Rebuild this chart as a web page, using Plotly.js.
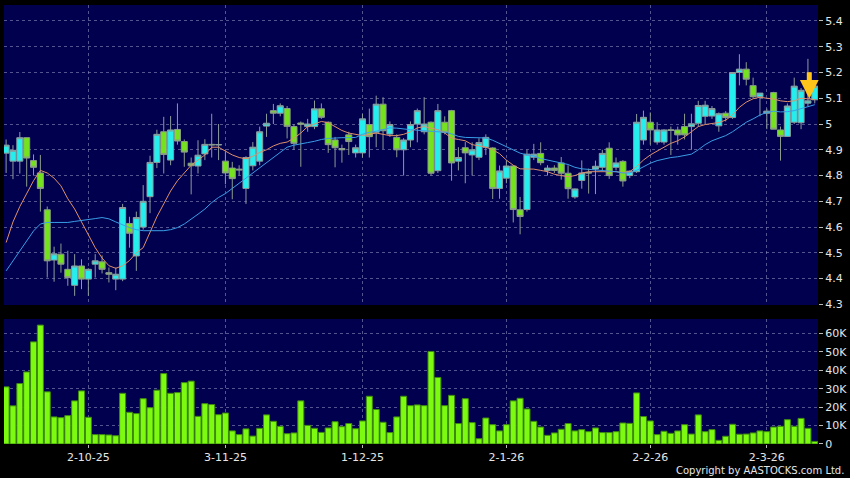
<!DOCTYPE html>
<html>
<head>
<meta charset="utf-8">
<script src="https://cdn.plot.ly/plotly-3.0.1.min.js"></script>
<style>
html,body{margin:0;padding:0;background:#000;}
#chart{width:850px;height:478px;}
</style>
</head>
<body>
<div id="chart"></div>
<script>
// ---- data ----
const tickIdx = [12, 32, 52, 73, 94, 111];
const tickText = ['2-10-25', '3-11-25', '1-12-25', '2-1-26', '2-2-26', '2-3-26'];

const openP = [
  4.887,4.856,4.856,4.947,4.858,4.81,4.667,4.472,4.495,4.436,
  4.374,4.449,4.398,4.456,4.465,4.423,4.398,4.398,4.614,4.488,
  4.60,4.718,4.851,4.97,4.86,4.979,4.932,4.848,4.837,4.884,
  4.921,4.919,4.856,4.829,4.825,4.75,4.838,4.856,4.992,5.052,
  5.042,5.06,4.99,5.004,4.99,4.99,5.059,5.007,4.938,4.905,
  4.958,4.888,4.888,4.998,4.968,5.077,4.961,4.948,4.9,4.938,
  5.0,4.97,5.007,4.819,5.007,5.052,4.856,4.908,
  4.88,4.871,4.91,4.907,4.75,4.79,4.837,4.667,4.668,4.871,4.886,
  4.82,4.829,4.849,4.809,4.717,4.781,4.812,4.825,4.832,4.906,
  4.832,4.855,4.80,4.815,4.938,5.007,4.93,4.93,4.978,4.977,
  4.99,4.99,5.003,5.03,5.031,4.993,5.042,5.025,5.20,5.213,
  5.149,5.106,5.042,5.122,4.977,4.952,5.007,5.005,5.081,5.094
];
const highP = [
  4.94,4.918,4.969,4.947,4.882,4.88,4.68,4.524,4.536,4.508,
  4.495,4.475,4.44,4.495,4.49,4.443,4.443,4.69,4.64,4.66,
  4.763,4.877,4.978,5.028,5.031,5.08,4.94,4.87,4.937,4.941,
  5.04,5.0,4.892,4.853,4.84,4.875,4.93,4.99,5.04,5.078,
  5.08,5.07,5.0,5.01,5.02,5.091,5.08,5.01,4.95,4.92,
  4.97,4.92,5.039,5.06,5.11,5.104,5.01,4.96,4.945,5.01,
  5.06,5.104,5.01,5.078,5.03,5.055,4.91,4.93,
  4.929,4.945,4.96,4.91,4.839,4.86,4.84,4.717,4.90,4.923,4.929,
  4.84,4.84,4.872,4.84,4.75,4.859,4.827,4.858,4.9,4.929,
  4.87,4.86,4.82,5.039,5.052,5.045,5.007,4.98,4.99,4.99,
  5.04,5.04,5.09,5.09,5.07,5.045,5.05,5.20,5.271,5.24,
  5.18,5.12,5.06,5.125,4.99,5.08,5.18,5.14,5.253,5.15
];
const lowP = [
  4.81,4.786,4.808,4.757,4.80,4.66,4.404,4.388,4.423,4.372,
  4.333,4.359,4.333,4.404,4.42,4.385,4.355,4.39,4.52,4.43,
  4.59,4.654,4.829,4.808,4.84,4.92,4.834,4.727,4.808,4.86,
  4.87,4.86,4.766,4.708,4.80,4.69,4.82,4.84,4.95,5.0,
  5.03,4.944,4.90,4.834,4.97,4.98,5.02,4.888,4.832,4.85,
  4.88,4.87,4.87,4.87,4.91,4.903,4.95,4.871,4.80,4.91,
  4.929,4.96,4.80,4.81,4.96,4.78,4.82,4.77,
  4.80,4.86,4.88,4.709,4.71,4.77,4.618,4.572,4.66,4.86,4.84,
  4.80,4.81,4.784,4.71,4.71,4.749,4.73,4.728,4.82,4.787,
  4.82,4.757,4.79,4.81,4.92,4.92,4.92,4.92,4.88,4.92,
  4.94,4.90,4.99,5.0,5.02,4.97,5.01,5.02,5.15,5.15,
  5.10,5.03,4.98,4.98,4.858,4.95,5.0,4.98,5.07,5.08
];
const closeP = [
  4.918,4.898,4.947,4.868,4.832,4.75,4.469,4.496,4.456,4.404,
  4.449,4.398,4.436,4.469,4.436,4.417,4.417,4.676,4.576,4.637,
  4.70,4.851,4.96,4.882,4.977,4.934,4.891,4.838,4.879,4.921,
  4.919,4.92,4.81,4.788,4.822,4.87,4.91,4.97,5.003,5.042,
  5.071,4.991,4.925,4.999,5.0,5.059,5.026,4.92,4.908,4.90,
  4.932,4.908,5.02,4.951,5.077,4.974,4.998,4.90,4.938,4.998,
  5.052,5.0,4.809,5.052,4.968,4.849,4.87,4.888,
  4.90,4.928,4.948,4.75,4.818,4.837,4.668,4.641,4.883,4.883,4.85,
  4.829,4.82,4.809,4.749,4.748,4.81,4.81,4.836,4.886,4.80,
  4.849,4.779,4.817,5.007,5.026,4.977,4.977,4.977,4.975,4.958,
  4.958,5.001,5.072,5.073,5.06,5.04,5.025,5.20,5.213,5.174,
  5.106,5.12,5.05,4.98,4.952,5.07,5.147,5.131,5.09,5.147
];
const volumeK = [
  31.0,20.7,32.8,39.1,55.4,64.5,28.3,14.7,14.3,15.4,
  23.4,28.8,14.5,5.1,5.1,4.9,4.5,27.5,17.2,16.5,
  24.6,19.7,29.2,38.2,27.5,27.9,33.3,34.1,15.0,21.9,
  21.4,15.9,16.8,7.1,5.1,8.2,4.3,8.5,15.8,12.3,
  9.6,5.6,6.0,23.4,10.1,8.5,6.3,8.7,12.1,9.4,
  11.1,8.3,12.5,25.9,18.7,11.8,6.2,14.7,25.9,20.8,
  21.2,20.8,50.2,36.1,20.8,26.4,11.1,24.6,
  11.6,2.9,14.1,10.5,7.1,10.5,23.4,24.8,19.0,12.3,9.2,
  4.7,6.0,8.0,11.1,7.1,7.8,6.7,8.7,6.2,6.2,
  6.7,11.4,11.2,27.7,14.9,12.5,5.1,6.9,5.8,7.1,
  10.5,5.4,15.8,6.7,7.8,2.0,4.2,10.7,5.3,5.4,
  6.0,7.1,6.7,9.2,9.6,13.2,9.6,13.9,8.5,1.4
];
const maShort = [
  4.54,4.62,4.68,4.73,4.78,4.82,4.81,4.79,4.76,4.71,
  4.67,4.62,4.57,4.52,4.48,4.45,4.44,4.45,4.47,4.50,
  4.52,4.58,4.64,4.69,4.74,4.78,4.81,4.84,4.86,4.88,
  4.91,4.91,4.895,4.88,4.87,4.865,4.875,4.89,4.90,4.915,
  4.925,4.93,4.945,4.965,4.99,5.00,5.01,5.005,4.99,4.975,
  4.965,4.96,4.955,4.96,4.965,4.96,4.955,4.955,4.96,4.97,
  4.985,4.99,4.985,4.978,4.965,4.945,4.94,4.935,
  4.92,4.915,4.91,4.90,4.885,4.86,4.84,4.826,4.825,4.825,4.82,
  4.815,4.805,4.80,4.795,4.80,4.81,4.815,4.815,4.815,4.815,
  4.815,4.812,4.815,4.835,4.86,4.88,4.895,4.91,4.925,4.935,
  4.95,4.97,4.99,4.998,5.003,5.006,5.015,5.035,5.065,5.085,
  5.098,5.104,5.10,5.097,5.09,5.087,5.09,5.10,5.098,5.095
];
const maLong = [
  4.43,4.47,4.51,4.55,4.585,4.612,4.618,4.618,4.618,4.618,
  4.622,4.625,4.628,4.633,4.637,4.632,4.62,4.608,4.598,4.59,
  4.586,4.586,4.586,4.586,4.59,4.598,4.612,4.63,4.65,4.67,
  4.695,4.715,4.73,4.75,4.77,4.79,4.81,4.83,4.85,4.87,
  4.89,4.91,4.918,4.922,4.928,4.933,4.94,4.944,4.946,4.947,
  4.947,4.948,4.96,4.968,4.972,4.978,4.985,4.984,4.98,4.978,
  4.976,4.974,4.972,4.972,4.968,4.962,4.952,4.948,
  4.948,4.948,4.946,4.937,4.925,4.912,4.9,4.887,4.88,4.876,4.866,
  4.86,4.856,4.85,4.843,4.832,4.826,4.824,4.822,4.82,4.818,
  4.815,4.81,4.81,4.82,4.835,4.848,4.858,4.865,4.87,4.873,
  4.877,4.883,4.9,4.92,4.935,4.945,4.955,4.97,4.99,5.007,
  5.02,5.035,5.045,5.05,5.047,5.048,5.052,5.06,5.068,5.075
];
const volTickVals = [0, 10, 20, 30, 40, 50, 60];
const volTickText = ['0', '10K', '20K', '30K', '40K', '50K', '60K'];
const markIndex = 117;   // bar marked by the yellow arrow

// ---- build ----
const idx = closeP.map((_, i) => i);
const gridCol = 'rgba(140,140,190,0.6)';
const fontFam = 'DejaVu Sans, sans-serif';
const tickFont = {family: fontFam, size: 11, color: '#e6e6e6'};
const xRange = [-0.31, idx.length - 0.53];

const traces = [
  {
    type: 'candlestick', x: idx, open: openP, high: highP, low: lowP, close: closeP,
    xaxis: 'x', yaxis: 'y', whiskerwidth: 0,
    increasing: {line: {color: '#8c9c9c', width: 1}, fillcolor: '#25EEEE'},
    decreasing: {line: {color: '#8c9c8c', width: 1}, fillcolor: '#74E21C'},
    hoverinfo: 'skip'
  },
  {
    type: 'scatter', mode: 'lines', x: idx, y: maShort, xaxis: 'x', yaxis: 'y',
    line: {color: '#E0906A', width: 1}, hoverinfo: 'skip'
  },
  {
    type: 'scatter', mode: 'lines', x: idx, y: maLong, xaxis: 'x', yaxis: 'y',
    line: {color: '#3A9EE6', width: 1}, hoverinfo: 'skip'
  },
  {
    type: 'bar', x: idx, y: volumeK, xaxis: 'x2', yaxis: 'y2',
    marker: {color: '#7CFA10', line: {color: '#3E8A10', width: 1}}, hoverinfo: 'skip'
  }
];

const layout = {
  width: 850, height: 478,
  paper_bgcolor: '#000000',
  plot_bgcolor: '#00004E',
  margin: {l: 4, r: 32, t: 5, b: 34},
  showlegend: false,
  boxgap: 0.12,
  boxgroupgap: 0,
  bargap: 0.12,
  xaxis: {
    domain: [0, 1], anchor: 'y', range: xRange, type: 'linear',
    tickvals: tickIdx, showticklabels: false, ticks: '',
    showgrid: true, gridcolor: gridCol, griddash: 'dot', gridwidth: 1,
    zeroline: false, showline: false, rangeslider: {visible: false}, fixedrange: true
  },
  yaxis: {
    domain: [0.3166, 1], anchor: 'x', side: 'right', range: [4.2975, 5.462],
    tick0: 4.3, dtick: 0.1, tickformat: '.1~f',
    ticks: 'outside', ticklen: 4, tickcolor: '#bbbbbb', tickfont: tickFont,
    showgrid: true, gridcolor: gridCol, griddash: 'dot', gridwidth: 1,
    zeroline: false, showline: false, fixedrange: true
  },
  xaxis2: {
    domain: [0, 1], anchor: 'y2', range: xRange, type: 'linear',
    tickvals: tickIdx, ticktext: tickText, ticks: 'outside', ticklen: 3,
    tickcolor: '#bbbbbb', tickfont: tickFont,
    showgrid: true, gridcolor: gridCol, griddash: 'dot', gridwidth: 1,
    zeroline: false, showline: false, fixedrange: true
  },
  yaxis2: {
    domain: [0, 0.2847], anchor: 'x2', side: 'right', range: [0, 67.8],
    tickvals: volTickVals, ticktext: volTickText,
    ticks: 'outside', ticklen: 4, tickcolor: '#bbbbbb', tickfont: tickFont,
    showgrid: true, gridcolor: gridCol, griddash: 'dot', gridwidth: 1,
    zeroline: false, showline: false, fixedrange: true
  },
  annotations: [
    {
      xref: 'x', yref: 'y', x: markIndex + 0.2, y: highP[markIndex] - 0.155,
      ax: 0, ay: -28, showarrow: true, arrowhead: 2, arrowsize: 0.75,
      arrowwidth: 5, arrowcolor: '#FFC41A', text: ''
    },
    {
      xref: 'paper', yref: 'paper', x: 1.0, y: -0.0615, xanchor: 'right', yanchor: 'middle',
      xshift: 28, showarrow: false, text: 'Copyright by AASTOCKS.com Ltd.',
      font: {family: fontFam, size: 10, color: '#e6e6e6'}
    }
  ]
};

Plotly.newPlot('chart', traces, layout, {displayModeBar: false, staticPlot: true});
</script>
</body>
</html>
